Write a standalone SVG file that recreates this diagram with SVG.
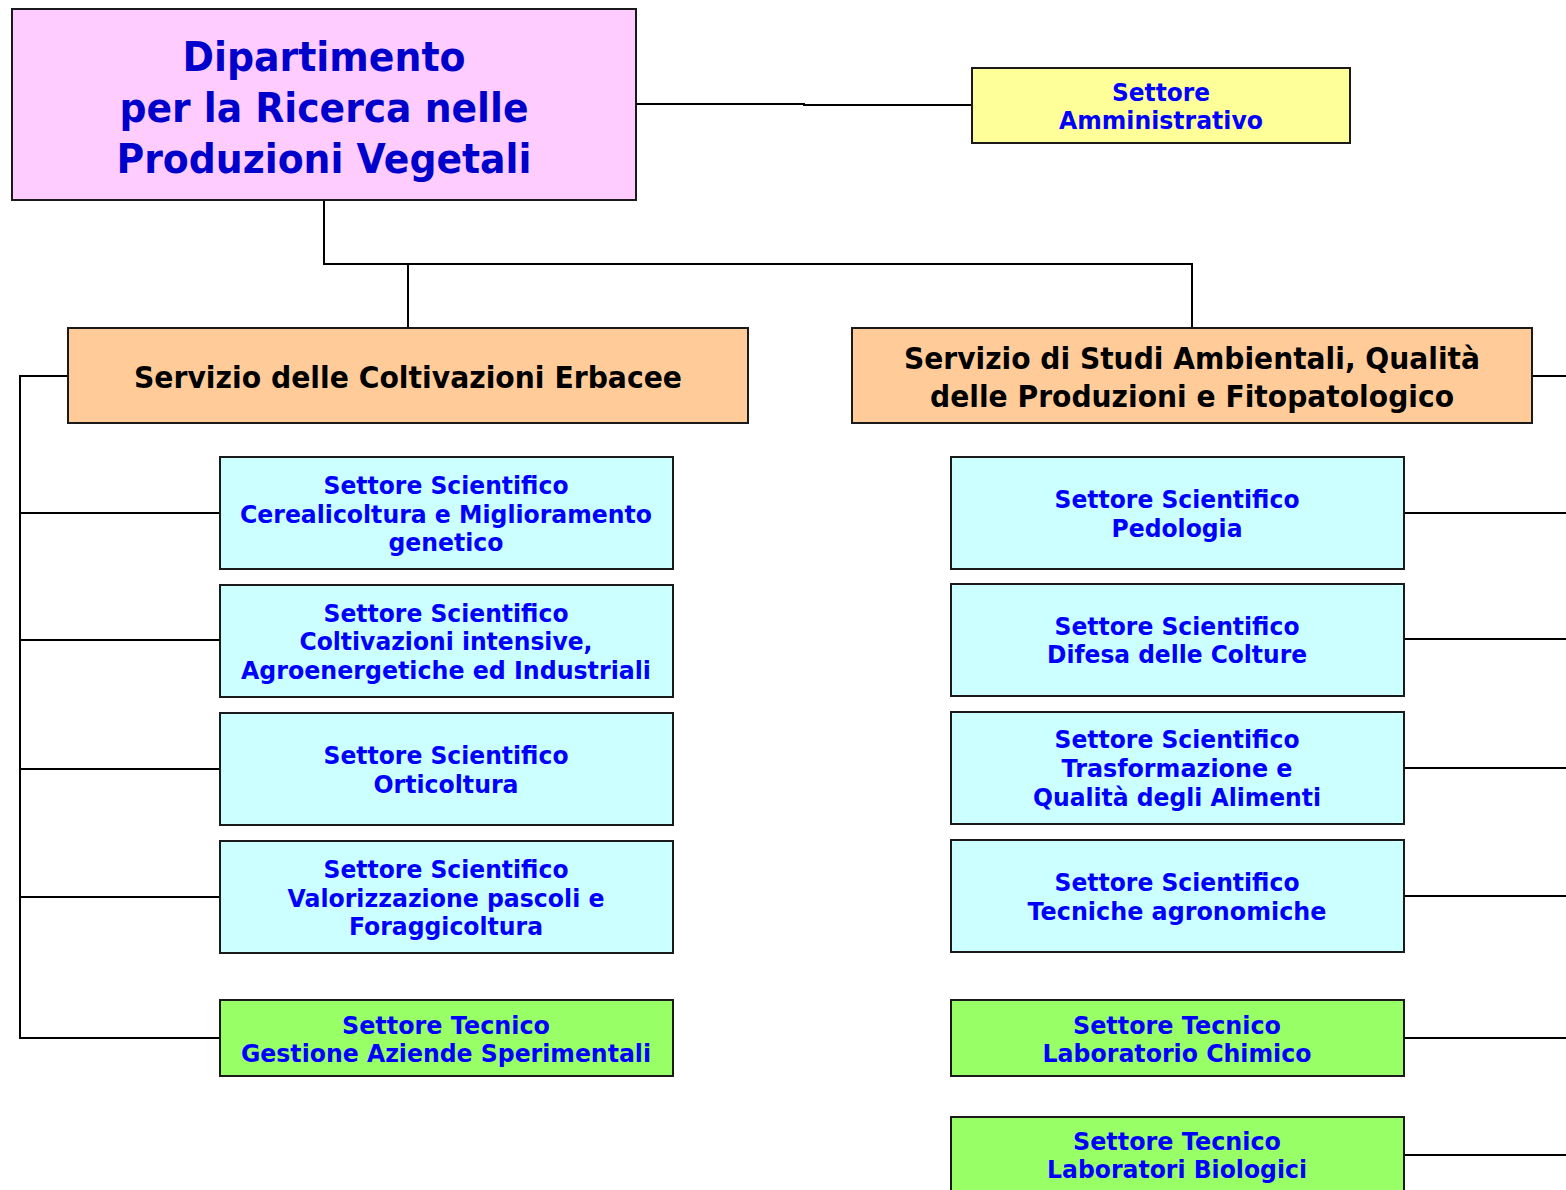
<svg xmlns="http://www.w3.org/2000/svg" width="1566" height="1190" viewBox="0 0 1566 1190">
<style>
.box{stroke:#1a1a1a;stroke-width:2}
.t{font-family:"DejaVu Sans","Verdana",sans-serif;font-weight:bold;text-anchor:middle}
.title{font-size:41px;fill:#0000CC}
.srv{font-size:31px;fill:#000}
.sub{font-size:25px;fill:#0000FF}
.pink{fill:#FFCCFF}.yel{fill:#FFFF99}.ora{fill:#FFCC99}.cy{fill:#CCFFFF}.gr{fill:#99FF66}
.c{fill:none;stroke:#000;stroke-width:2}
</style>
<rect width="1566" height="1190" fill="#fff"/>
<g id="connectors">
<path class="c" d="M636,104 H804 V105 H972"/>
<path class="c" d="M324,200 V264 H1192 V328"/>
<path class="c" d="M408,264 V328"/>
<path class="c" d="M68,376 H20 V1038 H220"/>
<path class="c" d="M20,513 H220 M20,640 H220 M20,769 H220 M20,897 H220"/>
<path class="c" d="M1532,376 H1566"/>
<path class="c" d="M1404,513 H1566 M1404,639 H1566 M1404,768 H1566 M1404,896 H1566 M1404,1038 H1566 M1404,1155 H1566"/>
</g>
<g id="dipartimento">
<rect class="box pink" x="12" y="9" width="624" height="191"/>
<text class="t title" x="324" y="71" textLength="283" lengthAdjust="spacingAndGlyphs">Dipartimento</text>
<text class="t title" x="324" y="122" textLength="409" lengthAdjust="spacingAndGlyphs">per la Ricerca nelle</text>
<text class="t title" x="324" y="173" textLength="415" lengthAdjust="spacingAndGlyphs">Produzioni Vegetali</text>
</g>
<g id="amministrativo">
<rect class="box yel" x="972" y="68" width="378" height="75"/>
<text class="t sub" x="1161" y="101" textLength="98" lengthAdjust="spacingAndGlyphs">Settore</text>
<text class="t sub" x="1161" y="129" textLength="204" lengthAdjust="spacingAndGlyphs">Amministrativo</text>
</g>
<g id="servizio-erbacee">
<rect class="box ora" x="68" y="328" width="680" height="95"/>
<text class="t srv" x="408" y="388" textLength="548" lengthAdjust="spacingAndGlyphs">Servizio delle Coltivazioni Erbacee</text>
</g>
<g id="servizio-ambientali">
<rect class="box ora" x="852" y="328" width="680" height="95"/>
<text class="t srv" x="1192" y="369" textLength="576" lengthAdjust="spacingAndGlyphs">Servizio di Studi Ambientali, Qualità</text>
<text class="t srv" x="1192" y="407" textLength="524" lengthAdjust="spacingAndGlyphs">delle Produzioni e Fitopatologico</text>
</g>
<g id="cerealicoltura">
<rect class="box cy" x="220" y="457" width="453" height="112"/>
<text class="t sub" x="446" y="494" textLength="245" lengthAdjust="spacingAndGlyphs">Settore Scientifico</text>
<text class="t sub" x="446" y="523" textLength="412" lengthAdjust="spacingAndGlyphs">Cerealicoltura e Miglioramento</text>
<text class="t sub" x="446" y="551" textLength="115" lengthAdjust="spacingAndGlyphs">genetico</text>
</g>
<g id="coltivazioni-intensive">
<rect class="box cy" x="220" y="585" width="453" height="112"/>
<text class="t sub" x="446" y="622" textLength="245" lengthAdjust="spacingAndGlyphs">Settore Scientifico</text>
<text class="t sub" x="446" y="650" textLength="293" lengthAdjust="spacingAndGlyphs">Coltivazioni intensive,</text>
<text class="t sub" x="446" y="679" textLength="410" lengthAdjust="spacingAndGlyphs">Agroenergetiche ed Industriali</text>
</g>
<g id="orticoltura">
<rect class="box cy" x="220" y="713" width="453" height="112"/>
<text class="t sub" x="446" y="764" textLength="245" lengthAdjust="spacingAndGlyphs">Settore Scientifico</text>
<text class="t sub" x="446" y="793" textLength="145" lengthAdjust="spacingAndGlyphs">Orticoltura</text>
</g>
<g id="pascoli">
<rect class="box cy" x="220" y="841" width="453" height="112"/>
<text class="t sub" x="446" y="878" textLength="245" lengthAdjust="spacingAndGlyphs">Settore Scientifico</text>
<text class="t sub" x="446" y="907" textLength="317" lengthAdjust="spacingAndGlyphs">Valorizzazione pascoli e</text>
<text class="t sub" x="446" y="935" textLength="194" lengthAdjust="spacingAndGlyphs">Foraggicoltura</text>
</g>
<g id="aziende">
<rect class="box gr" x="220" y="1000" width="453" height="76"/>
<text class="t sub" x="446" y="1034" textLength="208" lengthAdjust="spacingAndGlyphs">Settore Tecnico</text>
<text class="t sub" x="446" y="1062" textLength="410" lengthAdjust="spacingAndGlyphs">Gestione Aziende Sperimentali</text>
</g>
<g id="pedologia">
<rect class="box cy" x="951" y="457" width="453" height="112"/>
<text class="t sub" x="1177" y="508" textLength="245" lengthAdjust="spacingAndGlyphs">Settore Scientifico</text>
<text class="t sub" x="1177" y="537" textLength="131" lengthAdjust="spacingAndGlyphs">Pedologia</text>
</g>
<g id="difesa">
<rect class="box cy" x="951" y="584" width="453" height="112"/>
<text class="t sub" x="1177" y="635" textLength="245" lengthAdjust="spacingAndGlyphs">Settore Scientifico</text>
<text class="t sub" x="1177" y="663" textLength="260" lengthAdjust="spacingAndGlyphs">Difesa delle Colture</text>
</g>
<g id="trasformazione">
<rect class="box cy" x="951" y="712" width="453" height="112"/>
<text class="t sub" x="1177" y="748" textLength="245" lengthAdjust="spacingAndGlyphs">Settore Scientifico</text>
<text class="t sub" x="1177" y="777" textLength="231" lengthAdjust="spacingAndGlyphs">Trasformazione e</text>
<text class="t sub" x="1177" y="806" textLength="288" lengthAdjust="spacingAndGlyphs">Qualità degli Alimenti</text>
</g>
<g id="tecniche">
<rect class="box cy" x="951" y="840" width="453" height="112"/>
<text class="t sub" x="1177" y="891" textLength="245" lengthAdjust="spacingAndGlyphs">Settore Scientifico</text>
<text class="t sub" x="1177" y="920" textLength="299" lengthAdjust="spacingAndGlyphs">Tecniche agronomiche</text>
</g>
<g id="chimico">
<rect class="box gr" x="951" y="1000" width="453" height="76"/>
<text class="t sub" x="1177" y="1034" textLength="208" lengthAdjust="spacingAndGlyphs">Settore Tecnico</text>
<text class="t sub" x="1177" y="1062" textLength="269" lengthAdjust="spacingAndGlyphs">Laboratorio Chimico</text>
</g>
<g id="biologici">
<rect class="box gr" x="951" y="1117" width="453" height="80"/>
<text class="t sub" x="1177" y="1150" textLength="208" lengthAdjust="spacingAndGlyphs">Settore Tecnico</text>
<text class="t sub" x="1177" y="1178" textLength="260" lengthAdjust="spacingAndGlyphs">Laboratori Biologici</text>
</g>
</svg>
